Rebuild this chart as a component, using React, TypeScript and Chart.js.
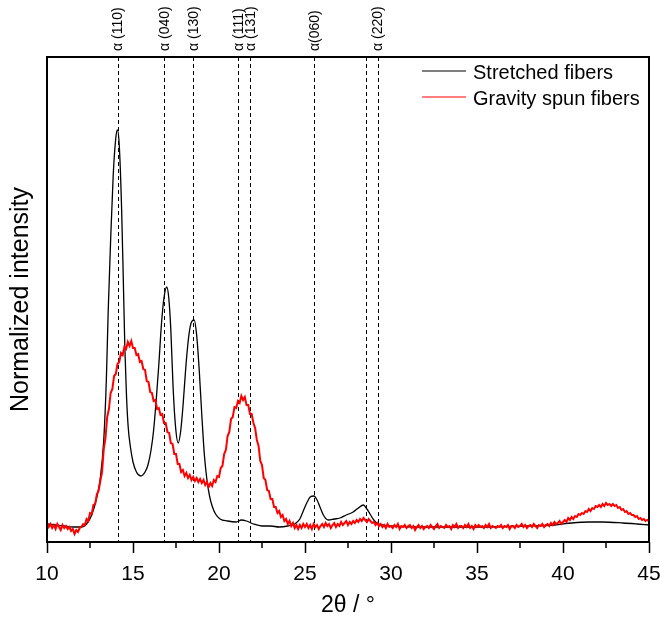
import React, { useEffect, useRef } from 'react';
import { Chart, registerables } from 'chart.js';

Chart.register(...registerables);

const X_MIN = 10;
const X_MAX = 45;
const Y_MIN = 0;
const Y_MAX = 485;
const MINOR_TICKS = [12.5, 17.5, 22.5, 27.5, 32.5, 37.5, 42.5];

const PEAK_POS = [14.1, 16.8, 18.5, 21.12, 21.8, 25.52, 28.53, 29.22];
const PEAK_LABELS = ['α (110)', 'α (040)', 'α (130)', 'α (111)', 'α (131)', 'α(060)', '', 'α (220)'];

const SERIES_NAMES = ['Stretched fibers', 'Gravity spun fibers'];

const STRETCHED_X = [
  10, 10.5, 11, 11.5, 12, 12.3, 12.6, 12.9, 13.1, 13.3,
  13.45, 13.56, 13.7, 13.85, 14.0, 14.09, 14.2, 14.34, 14.45, 14.53,
  14.62, 14.72, 14.85, 15.0, 15.2, 15.45, 15.7, 15.87, 16.05, 16.2,
  16.35, 16.5, 16.65, 16.8, 16.96, 17.08, 17.2, 17.33, 17.48, 17.63,
  17.78, 17.92, 18.08, 18.25, 18.4, 18.56, 18.7, 18.85, 19.0, 19.15,
  19.3, 19.45, 19.6, 19.8, 20.06, 20.5, 21.0, 21.3, 21.6, 22.0,
  22.5, 23, 23.5, 24, 24.4, 24.7, 24.9, 25.1, 25.3, 25.52,
  25.7, 25.87, 26.1, 26.35, 26.7, 27.03, 27.4, 27.8, 28.1, 28.39,
  28.6, 28.78, 29.0, 29.17, 29.5, 30, 32, 35, 38, 39.5,
  40.5, 41.5, 42.3, 43.5, 44.3, 45,
];
const STRETCHED_Y = [
  18, 17, 16, 15, 15, 18, 27, 45, 64, 102,
  162, 232, 302, 367, 404, 412, 397, 332, 252, 192,
  147, 115, 95, 80, 70, 66, 70, 77, 92, 112,
  142, 177, 217, 244, 255, 244, 212, 155, 114, 99,
  112, 139, 177, 207, 220, 222, 207, 172, 127, 87,
  62, 46, 36, 28, 23, 21, 20, 22, 21, 18,
  16, 16, 15, 16, 18, 23, 31, 39, 45, 46,
  42, 35, 26, 22, 23, 24, 27, 30, 34, 37,
  33, 28, 22, 19, 17, 16, 15, 15, 16, 17,
  19, 20, 20, 19, 18, 17,
];

// Gravity spun fibers: sampled every 0.1 degree from 10.0 to 45.0
const GRAVITY_X_START = 10;
const GRAVITY_X_STEP = 0.1;
const GRAVITY_Y = [
  19, 15, 18, 14, 17, 13, 18, 15, 12, 17, 14, 16, 13, 15, 11, 13, 8, 12, 10, 14, 15,
  18, 17, 23, 21, 29, 28, 37, 38, 48, 51,
  61, 70, 93, 104, 125, 133, 149, 153, 166, 168,
  178, 180, 189, 187, 195, 193, 200, 196, 201, 194,
  194, 187, 188, 180, 181, 173, 172, 161, 160, 150,
  149, 141, 142, 133, 134, 127, 128, 119, 119, 110,
  109, 99, 98, 88, 88, 78, 78, 70, 72, 66,
  69, 64, 67, 62, 65, 61, 64, 60, 63, 59,
  62, 57, 60, 55, 59, 56, 62, 60, 66, 65,
  74, 76, 88, 92, 106, 110, 123, 125, 135, 134,
  141, 139, 146, 142, 145, 137, 137, 128, 128, 119,
  114, 102, 96, 81, 77, 64, 62, 52, 51, 43,
  43, 35, 35, 29, 31, 25, 27, 21, 23, 18,
  21, 16, 19, 14, 17, 13, 17, 14, 18, 15,
  18, 14, 17, 13, 18, 15, 17, 13, 16, 18,
  15, 19, 16, 18, 14, 17, 19, 15, 18, 16,
  20, 17, 19, 21, 17, 20, 18, 21, 19, 22,
  20, 23, 21, 24, 22, 20, 23, 21, 19, 20,
  17, 19, 16, 18, 15, 17, 14, 18, 15, 16,
  14, 17, 15, 18, 13, 16, 15, 17, 14, 16,
  17, 14, 16, 12, 15, 17, 14, 16, 13, 15,
  16, 14, 17, 15, 13, 16, 18, 14, 16, 15,
  14, 17, 15, 16, 13, 17, 15, 18, 14, 16,
  16, 14, 17, 15, 18, 14, 16, 13, 17, 15,
  17, 15, 16, 14, 17, 15, 18, 14, 16, 15,
  14, 16, 15, 17, 14, 16, 15, 17, 13, 16,
  16, 14, 17, 15, 16, 18, 15, 17, 14, 16,
  17, 15, 18, 16, 14, 17, 16, 18, 15, 17,
  18, 16, 19, 17, 20, 18, 19, 21, 18, 20,
  22, 20, 24, 22, 25, 23, 26, 25, 28, 27,
  29, 28, 31, 30, 33, 31, 34, 33, 36, 35,
  37, 35, 38, 36, 39, 37, 38, 36, 38, 36,
  37, 34, 35, 32, 33, 30, 31, 28, 29, 27,
  27, 25, 26, 23, 24, 22, 23, 21, 22, 21,
];

const FONT = '"Liberation Sans", Arial, sans-serif';

const overlayPlugin = {
  id: 'overlay',
  beforeDatasetsDraw(chart: any) {
    const { ctx, chartArea } = chart;
    const xs = chart.scales.x;
    ctx.save();
    ctx.strokeStyle = '#000';
    ctx.lineWidth = 1;
    ctx.setLineDash([4, 3]);
    PEAK_POS.forEach((p) => {
      const x = Math.round(xs.getPixelForValue(p)) + 0.5;
      ctx.beginPath();
      ctx.moveTo(x, chartArea.top);
      ctx.lineTo(x, chartArea.bottom);
      ctx.stroke();
    });
    ctx.restore();
  },
  afterDraw(chart: any) {
    const { ctx, chartArea } = chart;
    const xs = chart.scales.x;
    ctx.save();
    // frame
    ctx.strokeStyle = '#000';
    ctx.lineWidth = 2;
    ctx.setLineDash([]);
    ctx.strokeRect(chartArea.left, chartArea.top, chartArea.right - chartArea.left, chartArea.bottom - chartArea.top);
    // minor ticks
    ctx.lineWidth = 1.5;
    MINOR_TICKS.forEach((t) => {
      const x = xs.getPixelForValue(t);
      ctx.beginPath();
      ctx.moveTo(x, chartArea.bottom);
      ctx.lineTo(x, chartArea.bottom + 6);
      ctx.stroke();
    });
    // peak labels
    ctx.fillStyle = '#000';
    ctx.font = `14px ${FONT}`;
    ctx.textAlign = 'left';
    ctx.textBaseline = 'middle';
    PEAK_POS.forEach((p, i) => {
      const lab = PEAK_LABELS[i];
      if (!lab) return;
      const x = xs.getPixelForValue(p);
      ctx.save();
      ctx.translate(x + 1, 51);
      ctx.rotate(-Math.PI / 2);
      ctx.fillText(lab, 0, 0);
      ctx.restore();
    });
    // legend
    const legendColors = ['#000000', '#ff0000'];
    const legendY = [71, 97];
    ctx.font = `20px ${FONT}`;
    ctx.textBaseline = 'middle';
    SERIES_NAMES.forEach((name, i) => {
      ctx.strokeStyle = legendColors[i];
      ctx.lineWidth = 1.2;
      ctx.beginPath();
      ctx.moveTo(422, legendY[i]);
      ctx.lineTo(466, legendY[i]);
      ctx.stroke();
      ctx.fillText(name, 473, legendY[i] + 2);
    });
    // axis titles
    ctx.font = `23px ${FONT}`;
    ctx.textAlign = 'center';
    ctx.fillText('2θ / °', (chartArea.left + chartArea.right) / 2, 606);
    ctx.save();
    ctx.translate(21, (chartArea.top + chartArea.bottom) / 2);
    ctx.rotate(-Math.PI / 2);
    ctx.font = `25px ${FONT}`;
    ctx.fillText('Normalized intensity', 0, 0);
    ctx.restore();
    ctx.restore();
  },
};

export default function App() {
  const ref = useRef<HTMLCanvasElement | null>(null);
  useEffect(() => {
    document.body.style.margin = '0';
    if (!ref.current) return;
    const stretched = STRETCHED_X.map((x, i) => ({ x, y: STRETCHED_Y[i] }));
    const gravity = GRAVITY_Y.map((y, i) => ({
      x: Math.round((GRAVITY_X_START + i * GRAVITY_X_STEP) * 10) / 10,
      y,
    }));
    const chart = new Chart(ref.current, {
      type: 'line',
      data: {
        datasets: [
          {
            label: SERIES_NAMES[1],
            data: gravity,
            borderColor: '#ff0000',
            borderWidth: 2,
            pointRadius: 0,
            tension: 0,
            order: 0,
          },
          {
            label: SERIES_NAMES[0],
            data: stretched,
            borderColor: '#000000',
            borderWidth: 1.3,
            pointRadius: 0,
            cubicInterpolationMode: 'monotone',
            order: 1,
          },
        ],
      },
      options: {
        responsive: false,
        animation: false,
        layout: { padding: { top: 57, right: 11, left: 0, bottom: 0 } },
        plugins: { legend: { display: false }, tooltip: { enabled: false } },
        scales: {
          x: {
            type: 'linear',
            min: X_MIN,
            max: X_MAX,
            afterFit: (s: any) => { s.height = 81; s.paddingLeft = 0; s.paddingRight = 0; },
            border: { display: false },
            grid: {
              drawOnChartArea: false,
              drawTicks: true,
              tickLength: 11,
              tickWidth: 1.5,
              tickColor: '#000',
            },
            ticks: {
              stepSize: 5,
              color: '#000',
              font: { family: FONT, size: 21 },
              padding: 9,
              maxRotation: 0,
              autoSkip: false,
            },
          },
          y: {
            type: 'linear',
            min: Y_MIN,
            max: Y_MAX,
            afterFit: (s: any) => { s.width = 47; s.paddingTop = 0; s.paddingBottom = 0; },
            border: { display: false },
            grid: { display: false },
            ticks: { display: false },
          },
        },
      },
      plugins: [overlayPlugin],
    } as any);
    return () => chart.destroy();
  }, []);
  return (
    <div style={{ width: 660, height: 623 }}>
      <canvas ref={ref} width={660} height={623} />
    </div>
  );
}
